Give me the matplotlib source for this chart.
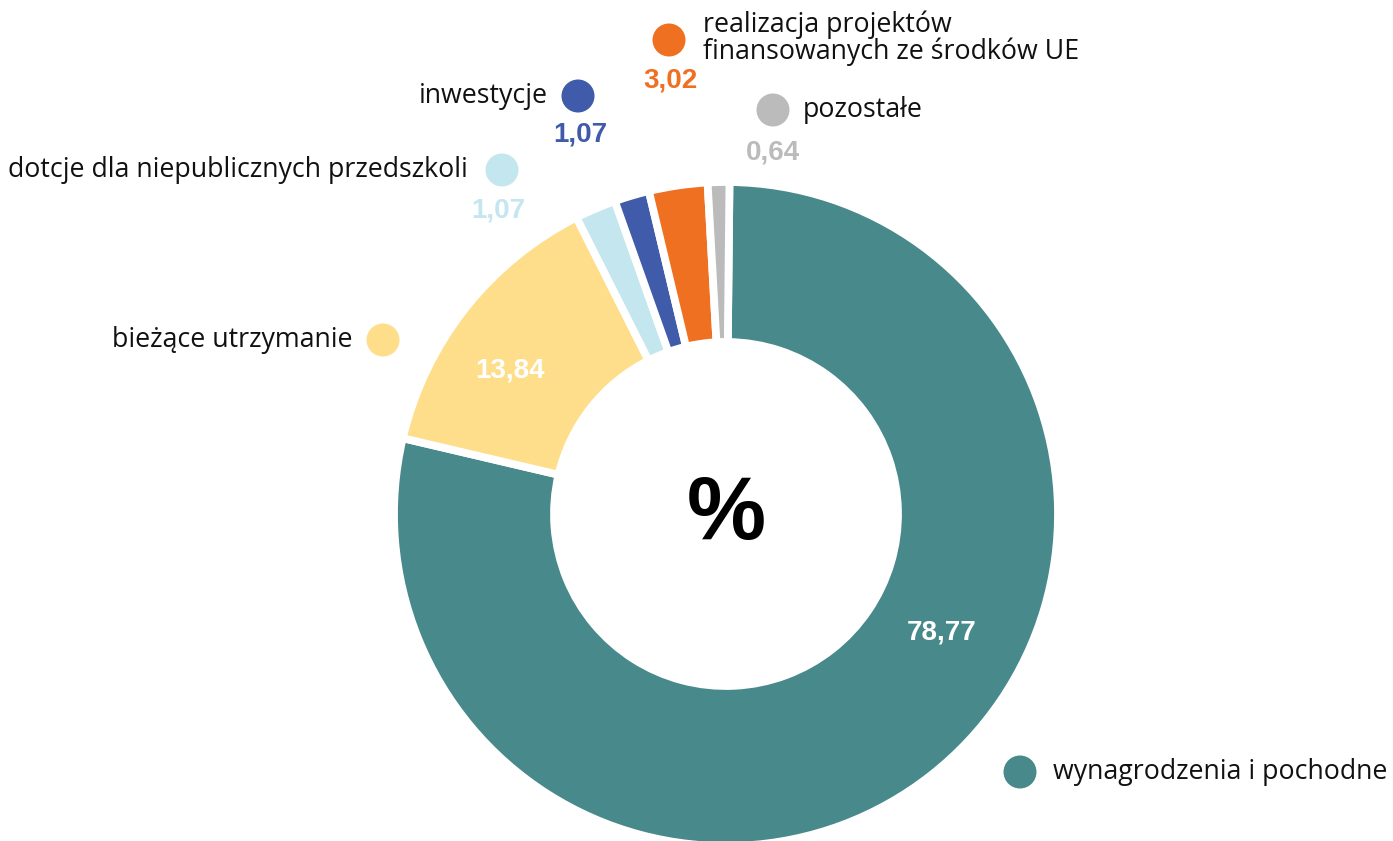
import matplotlib.pyplot as plt
from matplotlib.patches import Circle

# data
categories = ['wynagrodzenia i pochodne', 'bieżące utrzymanie',
              'dotcje dla niepublicznych przedszkoli', 'inwestycje',
              'realizacja projektów\nfinansowanych ze środków UE', 'pozostałe']
# slice sizes as drawn in the picture (printed labels differ slightly)
values = [78.5, 13.9, 2.0, 1.7, 2.85, 1.05]
value_labels = ['78,77', '13,84', '1,07', '1,07', '3,02', '0,64']
colors = ['#48898C', '#FEDE8A', '#C4E6EE', '#3F5BAA', '#F07022', '#BBBBBB']

W, H = 1393, 841
cx, cy = 726, 514   # centre of the donut in pixels (from top-left)
R, r_in = 332, 172

fig = plt.figure(figsize=(W / 100, H / 100), dpi=100)
ax = fig.add_axes([0, 0, 1, 1])

ax.pie(values, colors=colors, startangle=89.4, counterclock=False, radius=R,
       wedgeprops=dict(width=R - r_in, edgecolor='white', linewidth=5.6))

ax.set_xlim(-cx, W - cx)
ax.set_ylim(-(H - cy), cy)
ax.set_aspect('equal')
ax.axis('off')

ax.text(0, -2, '%', ha='center', va='center', fontsize=64, fontweight='bold',
        family='Liberation Sans', color='black')

txt_font = 'Open Sans'
num_font = 'Liberation Sans'

# dot (x, y), text anchor (x, y, align), value label (x, y, colour)
dots = [(294, -258), (-343, 174), (-224, 344), (-148, 418), (-57, 474), (47, 404)]
texts = [(327, -258, 'left'), (-374, 174, 'right'), (-258, 344, 'right'),
         (-178, 418, 'right'), (-23, 476, 'left'), (77, 404, 'left')]
nums = [(216, -118, 'white'), (-216, 144, 'white'), (-228, 304, colors[2]),
        (-146, 379, colors[3]), (-56, 434, colors[4]), (47, 362, colors[5])]

for i in range(len(categories)):
    ax.add_patch(Circle(dots[i], 16.5, color=colors[i], lw=0))
    tx, ty, ha = texts[i]
    ax.text(tx, ty, categories[i], ha=ha, va='center', fontsize=19.3,
            family=txt_font, color='#111111', linespacing=0.95)
    nx, ny, nc = nums[i]
    ax.text(nx, ny, value_labels[i], ha='center', va='center', fontsize=20,
            fontweight='bold', family=num_font, color=nc)

fig.savefig('out.png', dpi=100)
